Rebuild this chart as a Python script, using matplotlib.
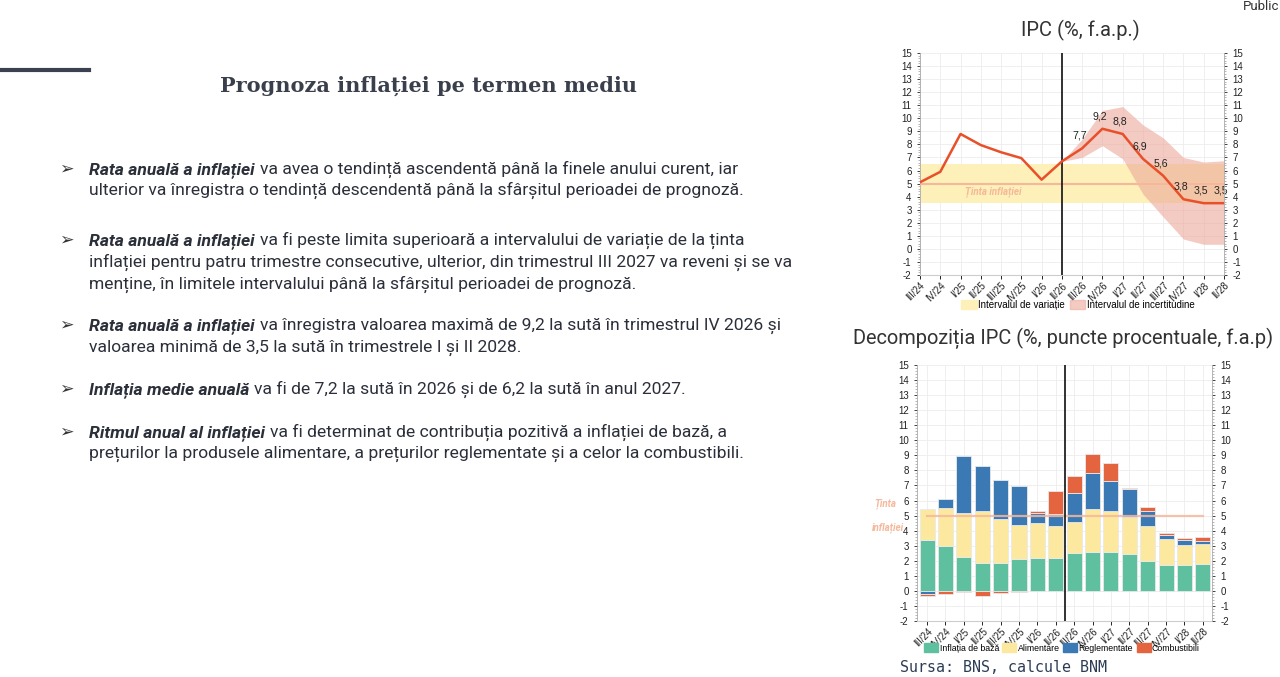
import numpy as np
import matplotlib
matplotlib.use("Agg")
import matplotlib.pyplot as plt
from matplotlib.patches import Patch
from matplotlib.ticker import MultipleLocator

W, H = 1280, 677

# ---- data ----
quarters = ["III/24", "IV/24", "I/25", "II/25", "III/25", "IV/25", "I/26", "II/26",
            "III/26", "IV/26", "I/27", "II/27", "III/27", "IV/27", "I/28", "II/28"]

ipc = [5.1, 5.9, 8.8, 7.95, 7.4, 6.95, 5.3, 6.7, 7.7, 9.2, 8.8, 6.9, 5.6, 3.8, 3.5, 3.5]
ipc_labels = ["7,7", "9,2", "8,8", "6,9", "5,6", "3,8", "3,5", "3,5"]  # from III/26 on

# uncertainty band, II/26 .. II/28
band_x = [7, 8, 9, 10, 11, 12, 13, 14, 15]
band_low = [6.7, 7.0, 7.9, 6.9, 4.2, 2.45, 0.75, 0.35, 0.35]
band_high = [6.7, 8.4, 10.6, 10.9, 9.5, 8.5, 7.0, 6.65, 6.75]

target = 5.0
var_low, var_high = 3.5, 6.5

# decomposition (percentage points)
baza = [3.4, 2.95, 2.25, 1.85, 1.85, 2.1, 2.2, 2.2, 2.5, 2.6, 2.6, 2.45, 2.0, 1.7, 1.7, 1.8]
alim = [2.05, 2.55, 2.9, 3.45, 2.95, 2.25, 2.3, 2.1, 2.1, 2.85, 2.7, 2.45, 2.3, 1.75, 1.35, 1.3]
regl = [-0.2, 0.6, 3.8, 3.0, 2.55, 2.6, 0.7, 0.8, 1.9, 2.4, 2.0, 1.85, 1.0, 0.25, 0.3, 0.2]
comb = [-0.13, -0.2, -0.05, -0.35, -0.12, -0.05, 0.1, 1.55, 1.1, 1.25, 1.2, 0.05, 0.3, 0.15, 0.15, 0.25]

bullets = [
    [("Rata anuală a inflației", "va avea o tendință ascendentă până la finele anului curent, iar"),
     ("", "ulterior va înregistra o tendință descendentă până la sfârșitul perioadei de prognoză.")],
    [("Rata anuală a inflației", "va fi peste limita superioară a intervalului de variație de la ținta"),
     ("", "inflației pentru patru trimestre consecutive, ulterior, din trimestrul III 2027 va reveni și se va"),
     ("", "menține, în limitele intervalului până la sfârșitul perioadei de prognoză.")],
    [("Rata anuală a inflației", "va înregistra valoarea maximă de 9,2 la sută în trimestrul IV 2026 și"),
     ("", "valoarea minimă de 3,5 la sută în trimestrele I și II 2028.")],
    [("Inflația medie anuală", "va fi de 7,2 la sută în 2026 și de 6,2 la sută în anul 2027.")],
    [("Ritmul anual al inflației", "va fi determinat de contribuția pozitivă a inflației de bază, a"),
     ("", "prețurilor la produsele alimentare, a prețurilor reglementate și a celor la combustibili.")],
]
baselines = [[174, 195], [245, 267, 289], [330, 352], [394], [437, 458]]

# ---- colours ----
c_line = "#e8502a"
c_yellow = "#fdf0b8"
c_pink = "#eda99c"
c_target = "#f6b89c"
c_green = "#5ec09f"
c_byellow = "#fce99f"
c_blue = "#3b79b4"
c_red = "#e3643f"
c_text = "#2b2f3a"

plt.rcParams["font.family"] = ["Roboto", "DejaVu Sans"]
plt.rcParams["axes.unicode_minus"] = False

fig = plt.figure(figsize=(W / 100, H / 100), dpi=100)
fig.patch.set_facecolor("white")


def fx(px):
    return px / W


def fy(py):
    return 1 - py / H


# ---- left slide part ----
fig.add_artist(plt.Line2D([0, fx(89)], [fy(70), fy(70)], color="#3b4150", lw=3))
fig.text(fx(429), fy(86), "Prognoza inflației pe termen mediu", ha="center", va="center",
         fontsize=15, fontweight="bold", family=["DejaVu Serif"], color="#3a3f4c")

renderer = fig.canvas.get_renderer()
for lines, ys in zip(bullets, baselines):
    fig.text(fx(59), fy(ys[0]), "➢", fontsize=12.5, fontweight="bold", family=["DejaVu Sans"],
             color="#333333", va="baseline")
    for (bold, rest), y in zip(lines, ys):
        x = 89
        if bold:
            t = fig.text(fx(x), fy(y), bold, fontsize=12.6, fontweight="bold", style="italic",
                         color=c_text, va="baseline")
            bb = t.get_window_extent(renderer)
            x = bb.x1 + 5
        fig.text(fx(x), fy(y), rest, fontsize=12.6, color=c_text, va="baseline")

fig.text(fx(1243), fy(6), "Public", fontsize=9.5, color="#333333", va="center")

# ---- top chart: IPC ----
x = np.arange(len(quarters))
ax1 = fig.add_axes([fx(920), fy(275), fx(1224) - fx(920), fy(53) - fy(275)])
ax1.axhspan(var_low, var_high, color=c_yellow, zorder=1, lw=0)
ax1.fill_between(band_x, band_low, band_high, color=c_pink, alpha=0.6, lw=0, zorder=2)
ax1.axhline(target, color=c_target, lw=1.5, zorder=3)
ax1.text(3.6, 4.35, "Ținta inflației", color=c_target, fontsize=7, style="italic",
         fontweight="bold", ha="center", va="center", zorder=3)
ax1.axvline(7, color="#222222", lw=1.3, zorder=4)
ax1.plot(x, ipc, color=c_line, lw=1.8, zorder=5)
for xi, lab in zip(x[8:], ipc_labels):
    ax1.annotate(lab, (xi, ipc[xi]), xytext=(-2, 9), textcoords="offset points",
                 ha="center", va="center", fontsize=7.6, color="#222222",
                 family=["Liberation Sans"], zorder=6)
ax1.set_xlim(0, 15)
ax1.set_ylim(-2, 15)

# ---- bottom chart: decomposition ----
ax2 = fig.add_axes([fx(917), fy(621), fx(1212) - fx(917), fy(365) - fy(621)])
bw = 0.82
ek = dict(edgecolor="#e9e9e9", linewidth=0.6, zorder=2)
pos_b = np.zeros(len(x))
neg_b = np.zeros(len(x))
for vals, col in [(baza, c_green), (alim, c_byellow), (regl, c_blue), (comb, c_red)]:
    vals = np.array(vals)
    bottoms = np.where(vals >= 0, pos_b, neg_b)
    ax2.bar(x, vals, bw, bottom=bottoms, color=col, **ek)
    pos_b = pos_b + np.where(vals >= 0, vals, 0)
    neg_b = neg_b + np.where(vals < 0, vals, 0)
ax2.plot([0, 15], [target, target], color=c_target, lw=1.6, alpha=0.85, zorder=3)
ax2.axvline(7.5, color="#222222", lw=1.3, zorder=4)
ax2.set_xlim(-0.55, 15.5)
ax2.set_ylim(-2, 15)
fig.text(fx(885), fy(504), "Ținta", color=c_target, fontsize=7, style="italic",
         fontweight="bold", ha="center", va="center")
fig.text(fx(888), fy(528), "inflației", color=c_target, fontsize=7, style="italic",
         fontweight="bold", ha="center", va="center")

for ax in (ax1, ax2):
    ax.set_xticks(x)
    ax.set_xticklabels(quarters, rotation=45, ha="right", rotation_mode="anchor",
                       fontsize=7, family=["Liberation Sans"], color="#222222")
    ax.yaxis.set_major_locator(MultipleLocator(1))
    ax.yaxis.set_minor_locator(MultipleLocator(0.2))
    ax.tick_params(axis="y", labelsize=7, length=2.5, width=0.6, colors="#222222")
    ax.tick_params(axis="y", which="minor", length=1.5, width=0.5, colors="#999999")
    ax.tick_params(axis="x", length=3, width=0.6, pad=1)
    for lab in ax.get_yticklabels():
        lab.set_family(["Liberation Sans"])
    ax.grid(True, color="#ececec", lw=0.6, zorder=0)
    ax.set_axisbelow(True)
    for s in ("top", "right"):
        ax.spines[s].set_visible(False)
    ax.spines["left"].set_color("#aaaaaa")
    ax.spines["bottom"].set_color("#cccccc")
    ax.spines["left"].set_linewidth(0.6)
    axr = ax.twinx()
    axr.set_ylim(ax.get_ylim())
    axr.yaxis.set_major_locator(MultipleLocator(1))
    axr.yaxis.set_minor_locator(MultipleLocator(0.2))
    axr.tick_params(axis="y", labelsize=7, length=2.5, width=0.6, colors="#222222")
    axr.tick_params(axis="y", which="minor", length=1.5, width=0.5, colors="#999999")
    for lab in axr.get_yticklabels():
        lab.set_family(["Liberation Sans"])
    for s in ("top", "left", "bottom"):
        axr.spines[s].set_visible(False)
    axr.spines["right"].set_color("#aaaaaa")
    axr.spines["right"].set_linewidth(0.6)

# titles
fig.text(fx(1080), fy(30), "IPC (%, f.a.p.)", ha="center", va="center", fontsize=14.5,
         color="#333333")
fig.text(fx(853), fy(338), "Decompoziția IPC (%, puncte procentuale, f.a.p)", ha="left",
         va="center", fontsize=14.4, color="#333333")

# legends
leg_kw = dict(frameon=False, handletextpad=0.15, borderaxespad=0, borderpad=0)
fig.legend([Patch(color=c_yellow), Patch(color=c_pink, alpha=0.6)],
           ["Intervalul de variație", "Intervalul de incertitudine"],
           loc="center", bbox_to_anchor=(fx(1078), fy(305)), ncol=2,
           handlelength=1.6, handleheight=1.0, columnspacing=0.5,
           prop={"family": "Liberation Sans", "size": 7}, **leg_kw)
fig.legend([Patch(color=c_green), Patch(color=c_byellow), Patch(color=c_blue), Patch(color=c_red)],
           ["Inflația de bază", "Alimentare", "Reglementate", "Combustibili"],
           loc="center", bbox_to_anchor=(fx(1062), fy(648)), ncol=4,
           handlelength=1.6, handleheight=1.1, columnspacing=0.4,
           prop={"family": "Liberation Sans", "size": 6.3}, **leg_kw)

fig.text(fx(900), fy(668), "Sursa: BNS, calcule BNM", family=["DejaVu Sans Mono"],
         fontsize=10.8, color="#2d3c55", va="center")

fig.savefig("out.png", dpi=100)
